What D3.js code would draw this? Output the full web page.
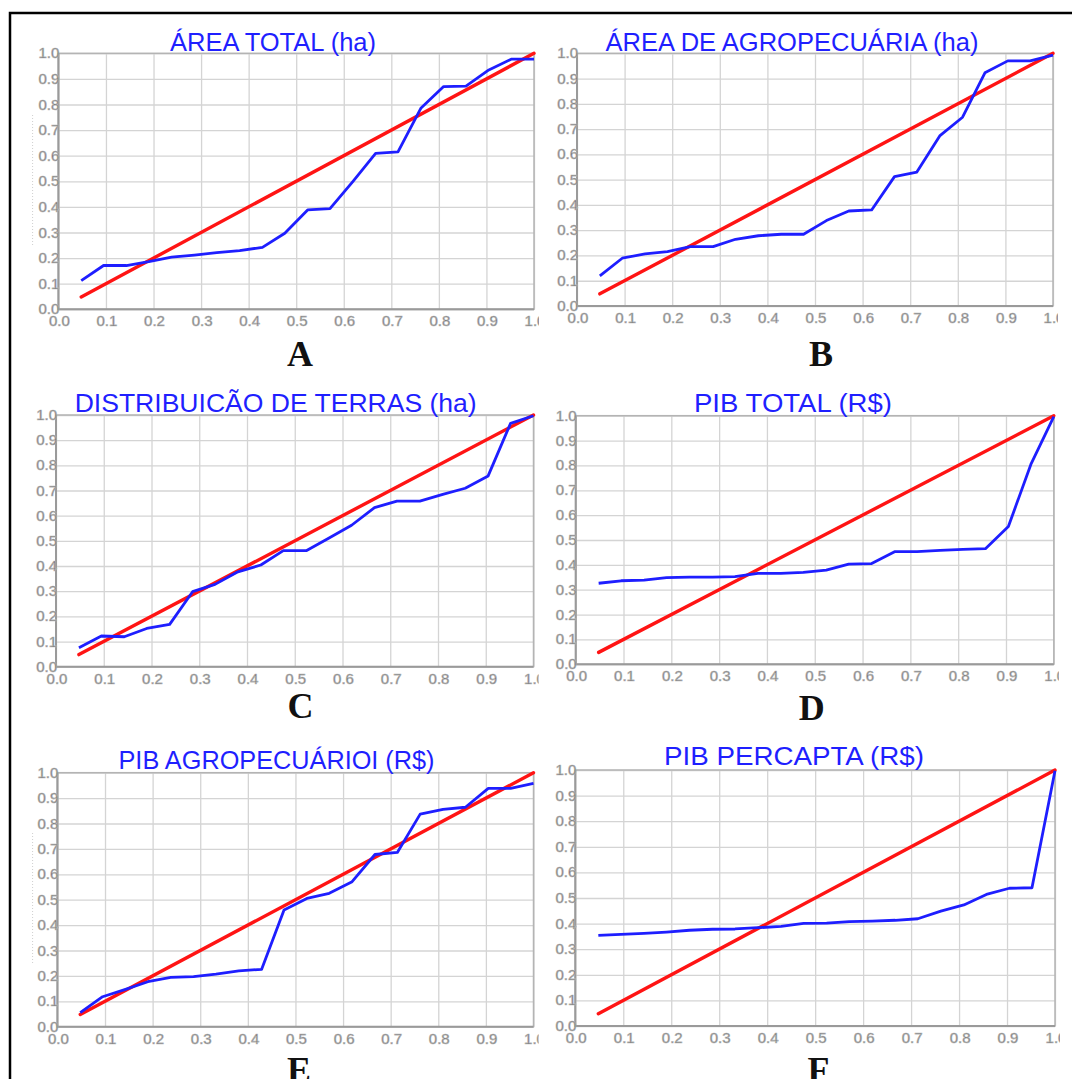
<!DOCTYPE html>
<html>
<head>
<meta charset="utf-8">
<script src="https://cdn.jsdelivr.net/npm/d3@7"></script>
<style>
  html, body { margin: 0; padding: 0; background: #fff; }
  svg { display: block; }
  .tick-label { font-family: "Liberation Sans", Arial, sans-serif; font-size: 15px; fill: #6a6a6a; stroke: #b8b8b8; stroke-width: 0.6px; }
  .panel-title { font-family: "Liberation Sans", Arial, sans-serif; font-size: 25px; fill: #1f1fff; }
  .panel-letter { font-family: "Liberation Serif", "Times New Roman", serif; font-size: 36px; font-weight: bold; fill: #111; }
</style>
</head>
<body>
<div id="graphicContainer"></div>
<script>

// cumulative population share (x) shared by every curve
const lorenzX = [0.048, 0.095, 0.143, 0.190, 0.238, 0.286, 0.333, 0.381, 0.429, 0.476, 0.524,
                 0.571, 0.619, 0.667, 0.714, 0.762, 0.810, 0.857, 0.905, 0.952, 1.0]

// line of equality
const equalityX = [0.048, 1.0]
const equalityY = [0.048, 1.0]

const areaTotal   = [0.112, 0.171, 0.171, 0.186, 0.204, 0.212, 0.221, 0.229, 0.242, 0.297, 0.388,
                     0.393, 0.499, 0.609, 0.615, 0.785, 0.870, 0.872, 0.935, 0.977, 0.977]
const areaAgro    = [0.119, 0.189, 0.206, 0.215, 0.235, 0.235, 0.264, 0.278, 0.284, 0.284, 0.338,
                     0.376, 0.380, 0.512, 0.530, 0.673, 0.747, 0.923, 0.970, 0.970, 0.993]
const distTerras  = [0.075, 0.122, 0.119, 0.152, 0.168, 0.298, 0.327, 0.377, 0.404, 0.461, 0.461,
                     0.510, 0.562, 0.632, 0.658, 0.658, 0.685, 0.709, 0.758, 0.967, 0.997]
const pibTotal    = [0.326, 0.336, 0.339, 0.349, 0.351, 0.351, 0.353, 0.366, 0.366, 0.370, 0.379,
                     0.403, 0.405, 0.453, 0.453, 0.458, 0.462, 0.465, 0.554, 0.804, 0.996]
const pibAgro     = [0.055, 0.118, 0.147, 0.177, 0.194, 0.197, 0.207, 0.220, 0.226, 0.459, 0.505,
                     0.525, 0.571, 0.678, 0.686, 0.837, 0.856, 0.864, 0.938, 0.938, 0.958]
const pibPercapta = [0.354, 0.358, 0.362, 0.367, 0.374, 0.378, 0.379, 0.384, 0.389, 0.401, 0.402,
                     0.408, 0.410, 0.413, 0.419, 0.449, 0.473, 0.514, 0.538, 0.540, 0.997]

const titles  = ["ÁREA TOTAL (ha)", "ÁREA DE AGROPECUÁRIA (ha)", "DISTRIBUICÃO DE TERRAS (ha)",
                 "PIB TOTAL (R$)", "PIB AGROPECUÁRIOI (R$)", "PIB PERCAPTA (R$)"]
const letters = ["A", "B", "C", "D", "E", "F"]
const series  = [areaTotal, areaAgro, distTerras, pibTotal, pibAgro, pibPercapta]

const ticks = [0, 0.1, 0.2, 0.3, 0.4, 0.5, 0.6, 0.7, 0.8, 0.9, 1.0]

// where each small plot sits on the page
const layout = [
  { x0: 58.4,  x1: 534,    y0: 309.3,  y1: 53.3,  tx: 273,   ty: 50.5,  tw: 206, lx: 300,   ly: 366 },
  { x0: 577,   x1: 1053,   y0: 306,    y1: 53.3,  tx: 792,   ty: 50.5,  tw: 373, lx: 821,   ly: 366 },
  { x0: 56,    x1: 533.5,  y0: 666.7,  y1: 415,   tx: 275.7, ty: 411.5, tw: 402, lx: 300.6, ly: 718 },
  { x0: 575.7, x1: 1053.8, y0: 664.3,  y1: 415.7, tx: 793,   ty: 412,   tw: 198, lx: 811.7, ly: 720 },
  { x0: 57.4,  x1: 533.5,  y0: 1026.7, y1: 772.7, tx: 276.5, ty: 769,   tw: 316, lx: 299,   ly: 1082 },
  { x0: 575.3, x1: 1055,   y0: 1026,   y1: 770,   tx: 794,   ty: 765,   tw: 260, lx: 818.5, ly: 1082 }
]

const width = 1072
const height = 1079

const svg = d3.select("#graphicContainer").append("svg")
  .attr("width", width)
  .attr("height", height)

svg.append("rect")
  .attr("width", width)
  .attr("height", height)
  .attr("fill", "#fff")

const defs = svg.append("defs")

layout.forEach((p, i) => {

  const x = d3.scaleLinear().domain([0, 1]).range([p.x0, p.x1])
  const y = d3.scaleLinear().domain([0, 1]).range([p.y0, p.y1])

  const g = svg.append("g").attr("class", "panel")

  // grid
  g.append("g")
    .attr("class", "grid x")
    .attr("transform", `translate(0,${p.y0})`)
    .call(d3.axisBottom(x).tickValues(ticks).tickSize(-(p.y0 - p.y1)).tickFormat(""))
    .call(a => a.select(".domain").remove())
    .selectAll("line")
    .attr("stroke", "#d4d4d4")
    .attr("stroke-width", 1.3)

  g.append("g")
    .attr("class", "grid y")
    .attr("transform", `translate(${p.x0},0)`)
    .call(d3.axisLeft(y).tickValues(ticks).tickSize(-(p.x1 - p.x0)).tickFormat(""))
    .call(a => a.select(".domain").remove())
    .selectAll("line")
    .attr("stroke", "#d4d4d4")
    .attr("stroke-width", 1.3)

  // frame
  g.append("rect")
    .attr("x", p.x0)
    .attr("y", p.y1)
    .attr("width", p.x1 - p.x0)
    .attr("height", p.y0 - p.y1)
    .attr("fill", "none")
    .attr("stroke", "#b4b4b4")
    .attr("stroke-width", 1.5)

  g.append("path")
    .attr("d", `M${p.x0},${p.y1}V${p.y0}H${p.x1}`)
    .attr("fill", "none")
    .attr("stroke", "#9a9a9a")
    .attr("stroke-width", 2)

  // y labels
  g.append("g")
    .selectAll("text")
    .data(ticks)
    .enter()
    .append("text")
    .attr("class", "tick-label")
    .attr("x", p.x0 + 1)
    .attr("y", d => y(d) + 5)
    .attr("text-anchor", "end")
    .text(d => d.toFixed(1))

  // x labels, the last one is cut off at the panel edge
  const clipId = "clip" + i
  defs.append("clipPath")
    .attr("id", clipId)
    .append("rect")
    .attr("x", p.x0 - 20)
    .attr("y", p.y0)
    .attr("width", p.x1 - p.x0 + 25)
    .attr("height", 30)

  g.append("g")
    .attr("clip-path", `url(#${clipId})`)
    .selectAll("text")
    .data(ticks)
    .enter()
    .append("text")
    .attr("class", "tick-label")
    .attr("x", d => x(d) + 1)
    .attr("y", p.y0 + 17)
    .attr("text-anchor", "middle")
    .text(d => d.toFixed(1))

  const line = d3.line()
    .x(d => x(d[0]))
    .y(d => y(d[1]))

  g.append("path")
    .datum(equalityX.map((d, k) => [d, equalityY[k]]))
    .attr("d", line)
    .attr("fill", "none")
    .attr("stroke", "#ff1414")
    .attr("stroke-width", 3.4)
    .attr("stroke-linecap", "round")

  g.append("path")
    .datum(lorenzX.map((d, k) => [d, series[i][k]]))
    .attr("d", line)
    .attr("fill", "none")
    .attr("stroke", "#1e1eff")
    .attr("stroke-width", 2.8)
    .attr("stroke-linejoin", "round")

  g.append("text")
    .attr("class", "panel-title")
    .attr("x", p.tx)
    .attr("y", p.ty)
    .attr("text-anchor", "middle")
    .attr("textLength", p.tw)
    .attr("lengthAdjust", "spacingAndGlyphs")
    .text(titles[i])

  g.append("text")
    .attr("class", "panel-letter")
    .attr("x", p.lx)
    .attr("y", p.ly)
    .attr("text-anchor", "middle")
    .text(letters[i])

})

// faint dotted marks left of panels A and E
svg.append("line")
  .attr("x1", 32.6).attr("x2", 32.6).attr("y1", 115).attr("y2", 247)
  .attr("stroke", "#cfcfcf").attr("stroke-width", 1).attr("stroke-dasharray", "1 2")

svg.append("line")
  .attr("x1", 32.6).attr("x2", 32.6).attr("y1", 833).attr("y2", 965)
  .attr("stroke", "#cfcfcf").attr("stroke-width", 1).attr("stroke-dasharray", "1 2")

// outer frame (only top and left edge are visible)
svg.append("path")
  .attr("d", `M10,${height}V13H${width}`)
  .attr("fill", "none")
  .attr("stroke", "#000")
  .attr("stroke-width", 2.5)

</script>
</body>
</html>
